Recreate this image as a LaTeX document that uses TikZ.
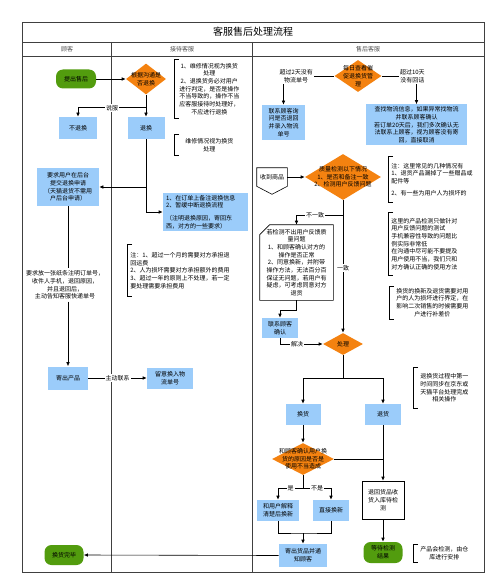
\documentclass[tikz,border=0pt]{standalone}
\usepackage{fontspec}
\setmainfont{Noto Sans CJK SC}
\usetikzlibrary{shapes.geometric,arrows.meta}
\definecolor{azzurro}{RGB}{155,204,250}
\definecolor{arancio}{RGB}{244,130,16}
\definecolor{verdino}{RGB}{82,156,14}
\newcommand{\graffa}[1]{\draw ([xshift=5pt]#1.north west) -- (#1.north west) -- (#1.south west) -- ([xshift=5pt]#1.south west);}

\begin{document}
\begin{tikzpicture}[x=1pt,y=-1pt,line width=0.6pt,>={Latex[length=4pt,width=3.5pt]},
    every node/.style={font=\fontsize{6}{7.7}\selectfont, inner sep=2pt},
    blu/.style={fill=azzurro, align=center},
    verde/.style={fill=verdino, rounded corners=7pt, align=center},
    rombo/.style={diamond, fill=arancio, inner sep=0pt},
    nota/.style={anchor=west, inner xsep=3pt},
    lab/.style={fill=white, inner sep=1pt, align=center}]
        % Corsie
        \path[use as bounding box, fill=white] (0,0) rectangle (500,588);
        \draw[line width=0.8pt, black!75] (22,22) rectangle (484,572);
        \draw[line width=0.8pt, black!75] (22,42) -- (484,42) (22,56) -- (484,56) (111,42) -- (111,572) (252,42) -- (252,572);
        \node[font=\fontsize{10}{12}\selectfont] (titolo) at (253,32) {客服售后处理流程};
        \node[black!70] (h1) at (67,49) {顾客};
        \node[black!70] (h2) at (182,49) {接待客服};
        \node[black!70] (h3) at (368,49) {售后客服};

        % Cliente
        \node[verde, minimum width=40, minimum height=19] (inizio) at (76,79) {提出售后};
        \node[rombo, minimum width=40, minimum height=31] (comunica) at (146,79) {};
        \node[align=center] (comunica-t) at (comunica) {根据沟通是\\否退换};
        \node[blu, minimum width=38, minimum height=22] (norimborso) at (78,128) {不退换};
        \node[blu, minimum width=37, minimum height=22] (cambio) at (146,128) {退换};
        \node[blu, minimum width=62, minimum height=38] (richiesta) at (68,187) {要求用户在后台\\提交退换申请\\（天猫退货不需用\\户后台申请）};
        \node[align=center] (istruz) at (65,285) {要求放一张纸条注明订单号，\\收件人手机，退回原因，\\并且退回后，\\主动告知客服快递单号};
        \node[blu, minimum width=40, minimum height=23] (spedisci) at (68,378) {寄出产品};
        \node[blu, minimum width=46, minimum height=21] (attendi) at (170,378) {留意换入物\\流单号};
        \node[verde, minimum width=39, minimum height=20] (fine) at (64,555) {换货完毕};

        % Accoglienza
        \node[nota, minimum height=58, text width=64, align=center] (notaA) at (174,89) {1、维修情况视为换货\\处理\\2、退换货务必对用户\\进行判定，是否是操作\\不当导致的，操作不当\\应客服接待时处理好，\\不应进行退换};
        \node[nota, minimum height=20, text width=64, align=center] (notaB) at (174,145) {维修情况视为换货\\处理};
        \node[blu, minimum width=85, minimum height=38, text width=79, align=left] (segna) at (205.5,212) {1、在订单上备注退换信息\\2、暂缓中断退换流程\\[5pt]（注明退换原因，寄回东\\西，对方的一些要求）};
        \node[nota, minimum height=51, text width=108, align=left] (notaD) at (127,270.5) {注：1、超过一个月的需要对方承担退\\回运费\\2、人为损坏需要对方承担额外的费用\\3、超过一年的原则上不处理，若一定\\要处理需要承担费用};
        \graffa{notaA}
        \graffa{notaB}
        \graffa{notaD}

        % Post-vendita
        \node[rombo, minimum width=47, minimum height=32] (controllo) at (358,76) {};
        \node[align=center] (controllo-t) at (controllo) {每日查看催\\促退换货管\\理};
        \node[blu, minimum width=43, minimum height=35] (chiama) at (283.5,122.5) {联系顾客询\\问是否退回\\并录入物流\\单号};
        \node[blu, minimum width=101, minimum height=41] (logistica) at (416.5,125) {查找物流信息，如果异常找物流\\并联系顾客确认\\若订单20天后，我们多次确认无\\法联系上顾客，视为顾客没有寄\\回，直接取消};
        \node[minimum width=30, minimum height=18] (ricevi) at (272,177) {收到商品};
        \draw (ricevi.north west) -- (ricevi.north east) -- (ricevi.south east) -- ([yshift=-8pt]ricevi.south) -- (ricevi.south west) -- cycle;
        \node[rombo, minimum width=76, minimum height=46] (verifica) at (343,177) {};
        \node[align=center] (verifica-t) at (verifica) {质量检测以下情况\\1、是否和备注一致\\2、检测用户反馈问题};
        \node[minimum width=73, minimum height=75, align=center] (nonok) at (296.5,262.5) {若检测不出用户反馈质\\量问题\\1、和顾客确认对方的\\操作是否正常\\2、同意换新，并附带\\操作方法，无法百分百\\保证无问题，若用户有\\疑虑，可考虑同意对方\\退货};
        \draw (nonok.south west) -- ([yshift=-10pt]nonok.north west) -- ([xshift=10pt]nonok.north west) -- (nonok.north east) -- (nonok.south east) -- cycle;
        \node[blu, minimum width=36, minimum height=20] (contatta) at (280,328) {联系顾客\\确认};
        \node[rombo, minimum width=40, minimum height=22] (gestione) at (343,344) {};
        \node (gestione-t) at (gestione) {处理};
        \node[blu, minimum width=35, minimum height=21] (scambio) at (303,414.5) {换货};
        \node[blu, minimum width=36, minimum height=21] (reso) at (383,414.5) {退货};
        \node[rombo, minimum width=62, minimum height=32] (conferma) at (303,459) {};
        \node[align=center] (conferma-t) at (conferma) {和顾客确认用户换\\货的原因是否是\\使用不当造成};
        \node[blu, minimum width=42, minimum height=21] (spiega) at (278,510.5) {和用户解释\\清楚后换新};
        \node[blu, minimum width=36, minimum height=21] (diretto) at (331,510.5) {直接换新};
        \node[blu, minimum width=48, minimum height=23] (invia) at (303,555.5) {寄出货品并通\\知顾客};
        \node[draw, minimum width=42, minimum height=38, align=center] (magazzino) at (383,500) {退回货品收\\货入库待检\\测};
        \node[verde, minimum width=39, minimum height=21] (attesa) at (383,552.5) {等待检测\\结果};
        \coordinate (bivio) at (343,215);
        \coordinate (unione) at (303,533);

        % Note a destra
        \node[nota, minimum height=45, text width=84, align=left] (notaE) at (388,179.5) {注：这里常见的几种情况有\\1、退货产品漏掉了一些赠品或\\配件等\\[4pt]2、有一些为用户人为损坏的};
        \node[nota, minimum height=62, text width=84, align=left] (notaF) at (388,244) {这里的产品检测只做针对\\用户反馈问题的测试\\手机兼容性导致的问题比\\例实际非常低\\在沟通中尽可能不要提及\\用户使用不当，我们只和\\对方确认正确的使用方法};
        \node[nota, minimum height=31, text width=80, align=center] (notaG) at (389,302.5) {换货的换新及退货需要对用\\户的人为损坏进行界定，在\\影响二次销售的时候需要用\\户进行补差价};
        \node[nota, minimum height=40, text width=56, align=center] (notaH) at (413,388) {退换货过程中第一\\时间同步在京东或\\天猫平台处理完成\\相关操作};
        \node[nota, minimum height=17, text width=56, align=center] (notaI) at (413,553.5) {产品会检测，由仓\\库进行安排};
        \graffa{notaE}
        \graffa{notaF}
        \graffa{notaG}
        \graffa{notaH}
        \graffa{notaI}

        % Collegamenti
        \draw[->] (inizio) -- (comunica);
        \draw[->] (comunica.south) -- ++(0,13) -| node[lab,pos=0.25]{说服} (norimborso.north);
        \draw[->] (comunica.south) -- (cambio.north);
        \draw[->] (cambio.south) |- (segna.west);
        \draw[->] (cambio.south |- richiesta.east) -- (richiesta.east);
        \draw (richiesta.south) -- (richiesta.south |- istruz.north);
        \draw[->] (spedisci.north |- istruz.south) -- (spedisci.north);
        \draw[->] (spedisci) -- node[lab]{主动联系} (attendi);
        \draw[->] (controllo.west) -| node[lab,pos=0.375]{超过2天没有\\物流单号} (chiama.north);
        \draw[->] (controllo.east) -| node[lab,pos=0.44]{超过10天\\没有回话} (logistica.north);
        \draw[->] (ricevi) -- (verifica);
        \draw (verifica.south) -- (bivio);
        \draw[->] (bivio) -| node[lab,pos=0.3]{不一致} (nonok.north);
        \draw[->] (bivio) -- node[lab,pos=0.45]{一致} (gestione.north);
        \draw[->] (nonok.south) -- ++(0,10) -| (contatta.north);
        \draw[->] (contatta.south) |- node[lab,pos=0.7]{解决} (gestione.west);
        \draw[->] (gestione.south) -- ++(0,23) -| (scambio.north);
        \draw[->] (gestione.south) -- ++(0,23) -| (reso.north);
        \draw[->] (scambio) -- (conferma);
        \draw[->] (conferma.south) -- ++(0,13) -| node[lab,pos=0.25]{是} (spiega.north);
        \draw[->] (conferma.south) -- ++(0,13) -| node[lab,pos=0.25]{不是} (diretto.north);
        \draw (spiega.south) |- (unione) -| (diretto.south);
        \draw[->] (unione) -- (invia.north);
        \draw[->] (invia.west) -- (fine.east);
        \draw (conferma.east) -- (conferma.east -| reso.south);
        \draw[->] (reso) -- (magazzino);
        \draw[->] (magazzino) -- (attesa);
\end{tikzpicture}
\end{document}
